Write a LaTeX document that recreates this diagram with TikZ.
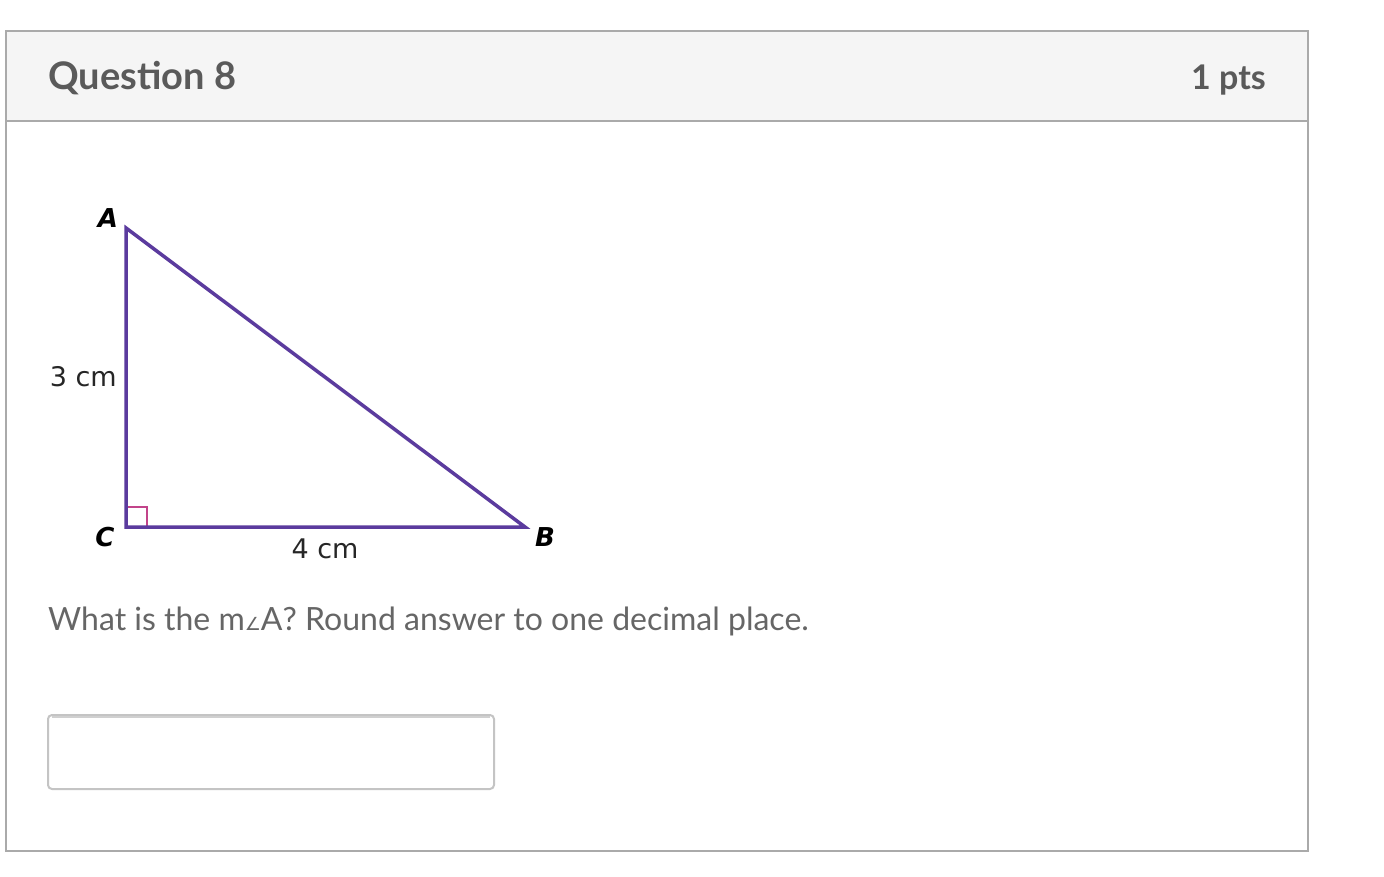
\documentclass[tikz,border=0pt]{standalone}
\usepackage{fontspec}
\setmainfont{Lato}
\newfontfamily\verd{DejaVu Sans}
\usetikzlibrary{calc}
\definecolor{borderc}{HTML}{AAAAAA}
\definecolor{headbg}{HTML}{F5F5F5}
\definecolor{textc}{HTML}{5A5A5A}
\definecolor{bodyc}{HTML}{666666}
\definecolor{tric}{HTML}{5B3B9E}
\definecolor{rightc}{HTML}{C2448A}
\definecolor{boxc}{HTML}{C4C4C4}
\tikzset{
  frame/.style={draw=borderc,line width=2pt},
  side/.style={draw=tric,line width=3.5pt,line join=miter},
  vlabel/.style={font=\verd\bfseries\itshape\fontsize{26}{30}\selectfont,text=black,inner sep=0pt},
  mlabel/.style={font=\verd\fontsize{27}{30}\selectfont,text=black!85,inner sep=0pt},
}
\begin{document}
\begin{tikzpicture}[x=1pt,y=-1pt]
\useasboundingbox[fill=white] (0,0) rectangle (1384,877);
% card
\fill[headbg] (6,31) rectangle (1308,121);
\draw[frame] (6,31) rectangle (1308,851);
\draw[frame] (6,121) -- (1308,121);
\node[anchor=base west,inner sep=0pt,text=textc,font=\bfseries\fontsize{38}{44}\selectfont] (q) at (48,90) {Question 8};
\node[anchor=base east,inner sep=0pt,text=textc,font=\bfseries\fontsize{34}{40}\selectfont] (pts) at (1266,90) {1 pts};
% triangle
\coordinate (A) at (126,228);
\coordinate (C) at (126,527);
\coordinate (B) at (525,527);
\draw[rightc,line width=2pt] ($(C)+(0,-20)$) -- ($(C)+(21,-20)$) -- ($(C)+(21,0)$);
\draw[side] (A) -- (C) -- (B) -- cycle;
\node[vlabel] (la) at (108,218) {A};
\node[vlabel] (lc) at (105,537) {C};
\node[vlabel] (lb) at (545,537) {B};
\node[mlabel,anchor=base east] (l3) at (117,386) {3 cm};
\node[mlabel,anchor=base] (l4) at (325,558) {4 cm};
% question text
\node[anchor=base west,inner sep=0pt,text=bodyc,font=\fontsize{32}{40}\selectfont] (txt) at (48,630) {What is the m{\verd\fontsize{18}{20}\selectfont ∠}A? Round answer to one decimal place.};
% answer box
\draw[boxc,line width=2pt,rounded corners=4pt] (48,715) rectangle (494,789);
\draw[boxc!80,line width=2pt] (52,717) -- (490,717);
\end{tikzpicture}
\end{document}
